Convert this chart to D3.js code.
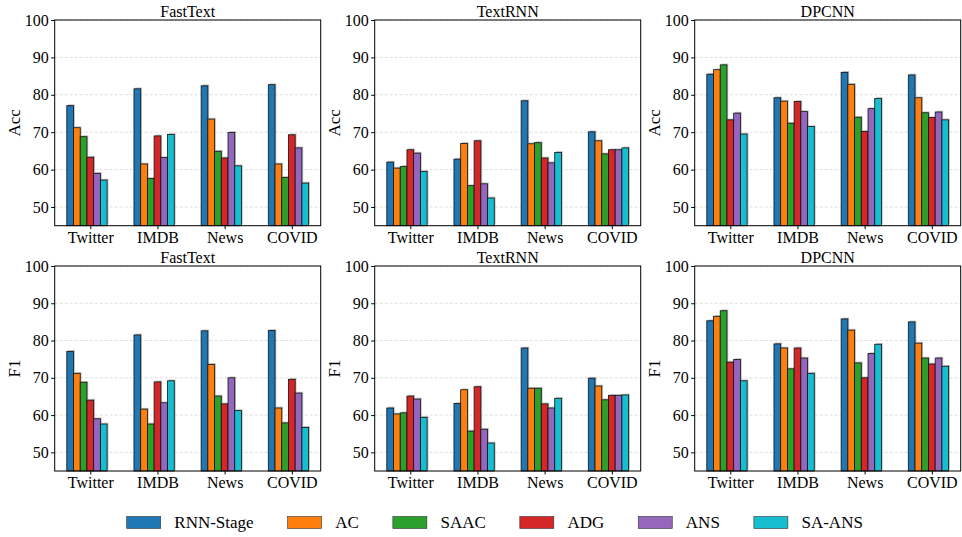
<!DOCTYPE html>
<html lang="en">
<head>
<meta charset="UTF-8">
<title>Acc and F1 by dataset</title>
<script src="https://d3js.org/d3.v7.min.js"></script>
<style>
  body { margin: 0; background: #fff; }
  svg text { font-family: "Liberation Serif", "Times New Roman", serif; fill: #000; }
</style>
</head>
<body>
<svg id="chart" width="962" height="537"></svg>
<script>
const datasets = ["Twitter", "IMDB", "News", "COVID"];
const methods = ["RNN-Stage", "AC", "SAAC", "ADG", "ANS", "SA-ANS"];
const colors = ["#1f77b4", "#ff7f0e", "#2ca02c", "#d62728", "#9467bd", "#17becf"];
const models = ["FastText", "TextRNN", "DPCNN"];
const metrics = ["Acc", "F1"];
const yTicks = [50, 60, 70, 80, 90, 100];

// one row per dataset, one column per method
const accFastText = [
  [77.1, 71.2, 68.8, 63.3, 59.0, 57.2],
  [81.6, 61.5, 57.6, 69.0, 63.2, 69.4],
  [82.4, 73.5, 64.9, 63.1, 69.9, 61.0],
  [82.7, 61.5, 57.9, 69.3, 65.8, 56.4]
];
const accTextRNN = [
  [62.0, 60.4, 60.8, 65.3, 64.4, 59.5],
  [62.8, 67.0, 55.7, 67.7, 56.2, 52.4],
  [78.4, 66.9, 67.2, 63.1, 61.8, 64.6],
  [70.1, 67.7, 64.2, 65.3, 65.3, 65.8]
];
const accDPCNN = [
  [85.5, 86.7, 88.0, 73.3, 75.1, 69.5],
  [79.2, 78.3, 72.4, 78.2, 75.5, 71.5],
  [86.0, 82.8, 74.0, 70.2, 76.3, 79.0],
  [85.3, 79.2, 75.2, 73.9, 75.4, 73.3]
];
const f1FastText = [
  [77.1, 71.2, 68.8, 64.0, 59.0, 57.6],
  [81.5, 61.6, 57.6, 68.9, 63.3, 69.2],
  [82.6, 73.6, 65.1, 63.0, 70.0, 61.2],
  [82.7, 61.9, 57.9, 69.6, 65.9, 56.7]
];
const f1TextRNN = [
  [61.9, 60.3, 60.6, 65.1, 64.3, 59.4],
  [63.1, 66.8, 55.7, 67.6, 56.2, 52.5],
  [78.0, 67.2, 67.2, 63.0, 61.9, 64.5],
  [69.9, 67.8, 64.1, 65.3, 65.3, 65.4]
];
const f1DPCNN = [
  [85.3, 86.5, 88.0, 74.2, 74.9, 69.2],
  [79.1, 78.0, 72.4, 78.0, 75.3, 71.2],
  [85.8, 82.8, 74.0, 70.0, 76.5, 79.0],
  [85.0, 79.3, 75.3, 73.7, 75.3, 73.1]
];

const panelValues = [
  [accFastText, accTextRNN, accDPCNN],
  [f1FastText, f1TextRNN, f1DPCNN]
];

const svg = d3.select("#chart");
const colLeft = [54.7, 374.7, 694.7];
const panelW = 266;
const rowTop = [20, 266];
const panelH = [205.7, 205];
const barW = 0.1;

metrics.forEach((metric, r) => {
  models.forEach((model, c) => {
    const values = panelValues[r][c];
    const x0 = colLeft[c], y0 = rowTop[r], h = panelH[r];

    const x = d3.scaleLinear().domain([-0.53, 3.43]).range([x0, x0 + panelW]);
    const y = d3.scaleLinear().domain([45, 100]).range([y0 + h, y0]);

    const g = svg.append("g");

    // dashed grid
    g.selectAll("line.grid")
      .data(yTicks)
      .enter()
      .append("line")
      .attr("x1", x0).attr("x2", x0 + panelW)
      .attr("y1", d => y(d)).attr("y2", d => y(d))
      .attr("stroke", "#d0d0d0")
      .attr("stroke-width", 0.7)
      .attr("stroke-dasharray", "3,2");

    const flat = [];
    values.forEach((row, i) => row.forEach((v, j) => flat.push({ i, j, v })));

    // soft shadow behind each bar
    g.selectAll("rect.shadow")
      .data(flat)
      .enter()
      .append("rect")
      .attr("x", d => x(d.i + (d.j - 3) * barW - barW / 2) + 1.3)
      .attr("y", d => y(d.v) - 1.3)
      .attr("width", x(barW) - x(0))
      .attr("height", d => y(45) - y(d.v))
      .attr("fill", "#8a8a8a")
      .attr("opacity", 0.55);

    g.selectAll("rect.bar")
      .data(flat)
      .enter()
      .append("rect")
      .attr("x", d => x(d.i + (d.j - 3) * barW - barW / 2))
      .attr("y", d => y(d.v))
      .attr("width", x(barW) - x(0))
      .attr("height", d => y(45) - y(d.v))
      .attr("fill", d => colors[d.j])
      .attr("stroke", "#111")
      .attr("stroke-width", 0.8);

    // frame
    g.append("rect")
      .attr("x", x0).attr("y", y0)
      .attr("width", panelW).attr("height", h)
      .attr("fill", "none")
      .attr("stroke", "#000")
      .attr("stroke-width", 1);

    const yAxis = g.append("g")
      .attr("transform", `translate(${x0},0)`)
      .call(d3.axisLeft(y).tickValues(yTicks).tickSize(3.5).tickPadding(2.5));
    yAxis.select(".domain").remove();
    yAxis.selectAll("text").attr("font-size", 16);

    const xAxis = g.append("g")
      .attr("transform", `translate(0,${y0 + h})`)
      .call(d3.axisBottom(x).tickValues(d3.range(datasets.length)).tickFormat(i => datasets[i]).tickSize(3.5).tickPadding(2));
    xAxis.select(".domain").remove();
    xAxis.selectAll("text").attr("font-size", 16);

    g.append("text")
      .attr("x", x0 + panelW / 2)
      .attr("y", y0 - 3.3)
      .attr("text-anchor", "middle")
      .attr("font-size", 16)
      .text(model);

    g.append("text")
      .attr("transform", `translate(${x0 - 41},${y0 + h / 2}) rotate(-90)`)
      .attr("text-anchor", "middle")
      .attr("dy", "0.35em")
      .attr("font-size", 17)
      .text(metric);
  });
});

// legend in one row
const legend = svg.append("g");
let lx = 126.7;
methods.forEach((m, j) => {
  legend.append("rect")
    .attr("x", lx).attr("y", 516.5)
    .attr("width", 34).attr("height", 12)
    .attr("fill", colors[j])
    .attr("stroke", "#333")
    .attr("stroke-width", 0.6);
  const t = legend.append("text")
    .attr("x", lx + 34 + 13.6)
    .attr("y", 528)
    .attr("font-size", 17)
    .text(m);
  lx += 34 + 13.6 + t.node().getComputedTextLength() + 34;
});
</script>
</body>
</html>
